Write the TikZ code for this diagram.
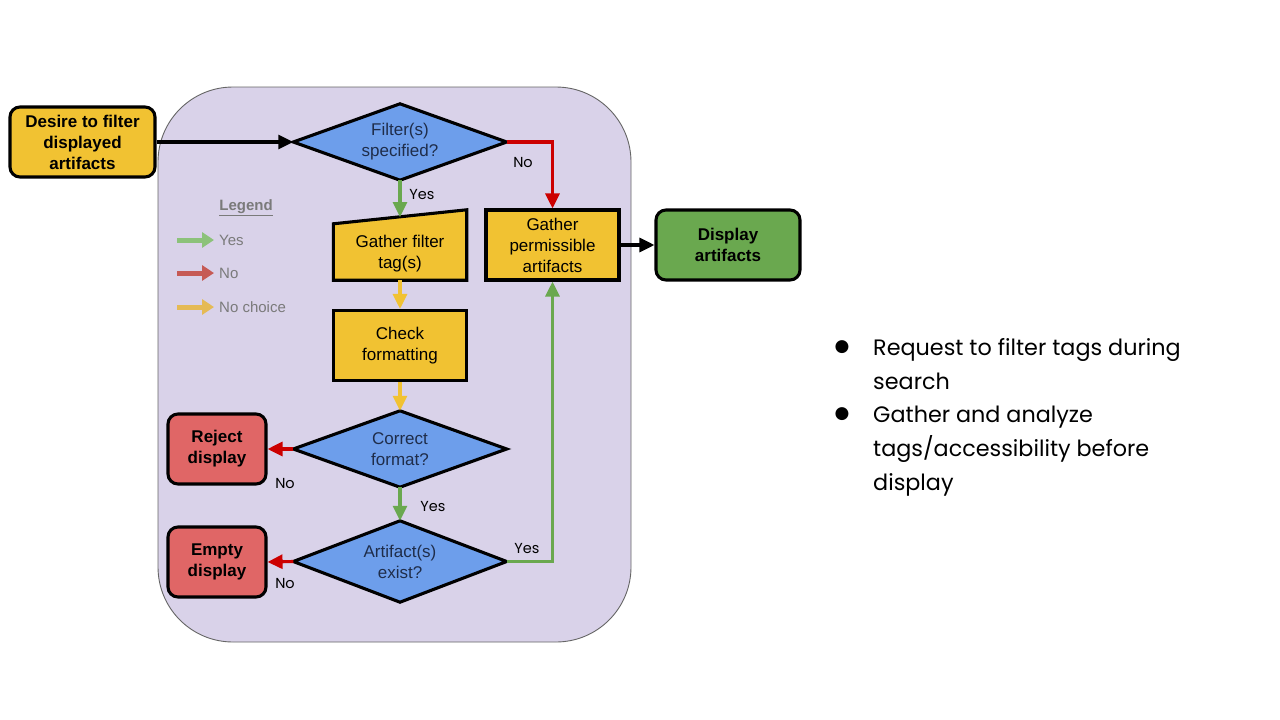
\documentclass[tikz,border=0pt]{standalone}
\usepackage{fontspec}
\setmainfont{Liberation Sans}
\newfontfamily\gothic{Poppins}
\newfontfamily\dejavu{DejaVu Sans}
\usetikzlibrary{shapes.geometric,arrows.meta}
\definecolor{bgpurple}{HTML}{D9D2E9}
\definecolor{boxyellow}{HTML}{F1C232}
\definecolor{boxblue}{HTML}{6D9EEB}
\definecolor{boxred}{HTML}{E06666}
\definecolor{boxgreen}{HTML}{6AA84F}
\definecolor{arrgreen}{HTML}{6AA84F}
\definecolor{arrred}{HTML}{CC0000}
\definecolor{arryellow}{HTML}{F1C232}
\definecolor{leggreen}{HTML}{8CC27A}
\definecolor{legred}{HTML}{C65A55}
\definecolor{legyellow}{HTML}{E5BA55}
\definecolor{legtext}{HTML}{7A7A7A}
\definecolor{dtext}{HTML}{1F2D4A}
\tikzset{
  basebox/.style={draw=black, line width=3.1pt, inner sep=0pt, align=center, font=\fontsize{17}{21}\selectfont},
  terminal/.style={basebox, rounded corners=10pt, font=\fontsize{17}{21}\selectfont\bfseries},
  procbox/.style={basebox, fill=boxyellow, minimum width=133pt, minimum height=70pt},
  decision/.style={inner sep=0pt, align=center, font=\fontsize{17}{21}\selectfont, minimum width=213pt, minimum height=76pt, text=dtext},
  diamondpath/.style={draw=black, fill=boxblue, line width=3.1pt, line join=miter},
  flow/.style={line width=3.1pt, -{Triangle[length=15pt,width=14pt]}},
  legarrow/.style={line width=5pt, -{Triangle[length=12pt,width=15pt]}},
  lbl/.style={font=\gothic\fontsize{14.5}{16}\selectfont, inner sep=0pt},
  legtxt/.style={font=\fontsize{15}{17}\selectfont, text=legtext, anchor=west, inner sep=0pt},
  bullettext/.style={font=\gothic\fontsize{22.3}{34}\selectfont, align=left, inner sep=0pt, anchor=base west},
  bulletdot/.style={font=\dejavu\fontsize{17}{17}\selectfont, inner sep=0pt}
}
\newcommand{\diamondshape}[1]{\path[diamondpath] (#1.north) -- (#1.east) -- (#1.south) -- (#1.west) -- cycle;}
\begin{document}
\begin{tikzpicture}[x=1pt,y=-1pt]
\useasboundingbox (0,0) rectangle (1280,720);
\fill[white] (0,0) rectangle (1280,720);
% background panel
\draw[fill=bgpurple, draw=black!60, line width=0.9pt, rounded corners=75pt] (158,87) rectangle (631,642);

% decision geometry (drawn first, text on top)
\node[decision] (filt) at (400,142) {};
\node[decision] (corr) at (400,449) {};
\node[decision, minimum height=81pt] (exist) at (400,561.5) {};
\diamondshape{filt}
\diamondshape{corr}
\diamondshape{exist}
\node[decision, minimum width=0pt, minimum height=0pt] (filttext) at (filt) {Filter(s)\\specified?};
\node[decision, minimum width=0pt, minimum height=0pt] (corrtext) at (corr) {Correct\\format?};
\node[decision, minimum width=0pt, minimum height=0pt] (existtext) at (exist) {Artifact(s)\\exist?};

% nodes
\node[terminal, fill=boxyellow, minimum width=145pt, minimum height=70pt] (desire) at (82.5,142) {Desire to filter\\displayed\\artifacts};
\node[minimum width=133pt, minimum height=70pt, inner sep=0pt] (gft) at (400,245) {};
\path[draw=black, fill=boxyellow, line width=3.1pt, line join=miter] (gft.south west) -- (gft.south east) -- (gft.north east) -- ([yshift=-14pt]gft.north west) -- cycle;
\node[font=\fontsize{17}{21}\selectfont, align=center, inner sep=0pt] (gfttext) at (400,254) {Gather filter\\tag(s)};
\coordinate (gfttop) at (400,217);
\node[procbox] (check) at (400,345.5) {Check\\formatting};
\node[terminal, fill=boxred, minimum width=98pt, minimum height=70pt] (reject) at (217,449) {Reject\\display};
\node[terminal, fill=boxred, minimum width=98pt, minimum height=70pt] (empty) at (217,562) {Empty\\display};
\node[procbox] (perm) at (552.5,245) {Gather\\permissible\\artifacts};
\node[terminal, fill=boxgreen, minimum width=144pt, minimum height=70pt] (disp) at (728,245) {Display\\artifacts};

% connectors
\draw[flow, black] (desire.east) -- (filt.west);
\draw[flow, arrgreen] (filt.south) -- (gfttop);
\draw[flow, arryellow] (gft.south) -- (check.north);
\draw[flow, arryellow] (check.south) -- (corr.north);
\draw[flow, arrgreen] (corr.south) -- (exist.north);
\draw[flow, arrred] (corr.west) -- (reject.east);
\draw[flow, arrred] (exist.west) -- (empty.east);
\draw[flow, arrred] (filt.east) -| (perm.north);
\draw[flow, arrgreen] (exist.east) -| (perm.south);
\draw[flow, black] (perm.east) -- (disp.west);

% edge labels
\node[lbl] (l1) at (422,195) {Yes};
\node[lbl] (l2) at (523,163) {No};
\node[lbl] (l3) at (285,483) {No};
\node[lbl] (l4) at (433,507) {Yes};
\node[lbl] (l5) at (527,549) {Yes};
\node[lbl] (l6) at (285,583) {No};

% legend
\node[font=\fontsize{15}{17}\selectfont\bfseries, text=legtext, inner sep=0pt] (leg) at (246,208) {\underline{Legend}};
\coordinate (ga) at (177,240); \coordinate (gb) at (214,240);
\coordinate (ra) at (177,273); \coordinate (rb) at (214,273);
\coordinate (ya) at (177,307); \coordinate (yb) at (214,307);
\draw[legarrow, leggreen] (ga) -- (gb);
\draw[legarrow, legred] (ra) -- (rb);
\draw[legarrow, legyellow] (ya) -- (yb);
\node[legtxt] (lyes) at (219,240) {Yes};
\node[legtxt] (lno) at (219,273) {No};
\node[legtxt] (lnc) at (219,307) {No choice};

% bullets
\node[bulletdot] (d1) at (842,347) {●};
\node[bulletdot] (d2) at (842,414) {●};
\node[bullettext] (t1) at (873,389) {Request to filter tags during\\search};
\node[bullettext] (t2) at (873,490) {Gather and analyze\\tags/accessibility before\\display};
\end{tikzpicture}
\end{document}
